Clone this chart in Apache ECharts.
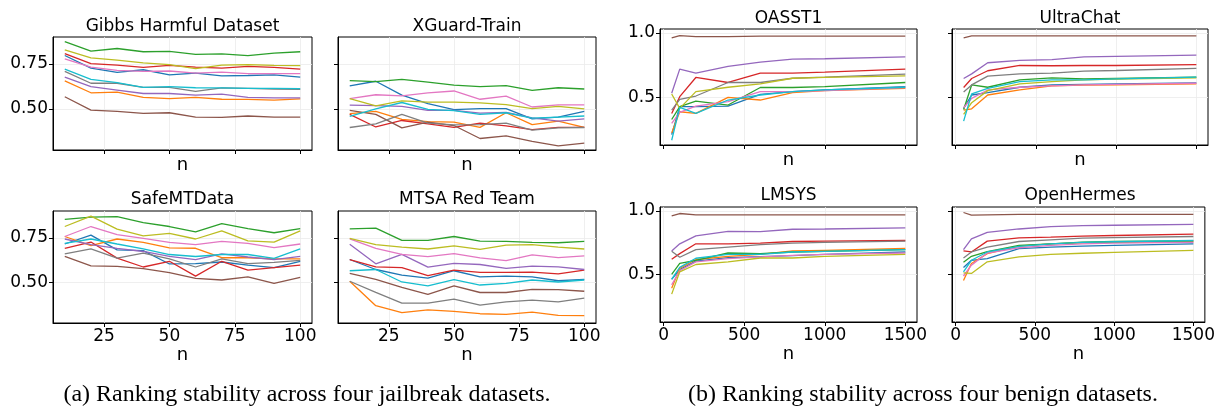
<!DOCTYPE html>
<html>
<head>
<meta charset="utf-8">
<script src="https://cdn.jsdelivr.net/npm/echarts@6/dist/echarts.min.js"></script>
<style>html,body{margin:0;padding:0;background:#fff;}#c{width:1218px;height:410px;}</style>
</head>
<body>
<div id="c"></div>
<script>
// ---------------- data ----------------
const seriesNames = ['m1','m2','m3','m4','m5','m6','m7','m8','m9','m10'];
const colors = ['#1f77b4','#ff7f0e','#2ca02c','#d62728','#9467bd','#8c564b','#e377c2','#7f7f7f','#bcbd22','#17becf'];
const xJail = [10,20,30,40,50,60,70,80,90,100];
const xBenign = [50,100,200,400,600,800,1000,1500];
const jailTicksX = [25,50,75,100];
const jailTicksY = [0.5,0.75];
const benignTicksX = [0,500,1000,1500];
const benignTicksY = [0.5,1.0];
const titles = ['Gibbs Harmful Dataset','XGuard-Train','SafeMTData','MTSA Red Team','OASST1','UltraChat','LMSYS','OpenHermes'];
const captionA = '(a) Ranking stability across four jailbreak datasets.';
const captionB = '(b) Ranking stability across four benign datasets.';

const gibbs = [
 [0.797,0.727,0.703,0.718,0.690,0.699,0.684,0.686,0.690,0.677],
 [0.656,0.590,0.594,0.564,0.558,0.564,0.554,0.553,0.549,0.556],
 [0.874,0.821,0.836,0.818,0.820,0.803,0.806,0.797,0.810,0.818],
 [0.808,0.752,0.744,0.731,0.742,0.733,0.727,0.737,0.731,0.722],
 [0.677,0.624,0.605,0.586,0.586,0.577,0.583,0.564,0.562,0.562],
 [0.568,0.494,0.487,0.476,0.479,0.455,0.453,0.461,0.455,0.455],
 [0.778,0.733,0.714,0.709,0.711,0.699,0.705,0.696,0.696,0.697],
 [0.709,0.643,0.643,0.620,0.620,0.598,0.617,0.615,0.611,0.609],
 [0.829,0.784,0.771,0.756,0.746,0.724,0.744,0.746,0.742,0.741],
 [0.722,0.665,0.647,0.620,0.624,0.618,0.617,0.615,0.615,0.613]
];
const xguard = [
 [0.628,0.654,0.577,0.530,0.496,0.502,0.502,0.445,0.455,0.487],
 [0.474,0.487,0.442,0.430,0.427,0.398,0.479,0.413,0.432,0.398],
 [0.658,0.652,0.665,0.649,0.633,0.624,0.630,0.603,0.618,0.611],
 [0.470,0.400,0.436,0.417,0.398,0.421,0.406,0.385,0.398,0.398],
 [0.521,0.519,0.515,0.492,0.492,0.477,0.481,0.451,0.432,0.445],
 [0.492,0.470,0.395,0.427,0.408,0.336,0.350,0.320,0.295,0.310],
 [0.558,0.579,0.573,0.590,0.600,0.554,0.571,0.511,0.523,0.523],
 [0.397,0.417,0.470,0.421,0.412,0.413,0.421,0.383,0.395,0.397],
 [0.558,0.517,0.545,0.538,0.538,0.534,0.524,0.502,0.515,0.500],
 [0.459,0.500,0.536,0.498,0.491,0.470,0.479,0.449,0.455,0.461]
];
const safemt = [
 [0.715,0.765,0.682,0.678,0.603,0.605,0.614,0.596,0.583,0.618],
 [0.757,0.706,0.743,0.724,0.693,0.691,0.638,0.638,0.631,0.631],
 [0.853,0.866,0.868,0.835,0.813,0.783,0.829,0.801,0.778,0.801],
 [0.691,0.726,0.636,0.586,0.618,0.535,0.618,0.568,0.583,0.596],
 [0.743,0.711,0.691,0.673,0.645,0.627,0.660,0.642,0.627,0.645],
 [0.645,0.592,0.590,0.577,0.555,0.522,0.513,0.531,0.494,0.528],
 [0.757,0.813,0.767,0.746,0.724,0.711,0.730,0.719,0.695,0.715],
 [0.660,0.688,0.636,0.664,0.632,0.586,0.632,0.605,0.612,0.623],
 [0.813,0.871,0.798,0.761,0.774,0.743,0.789,0.733,0.726,0.789],
 [0.719,0.743,0.715,0.688,0.656,0.645,0.656,0.656,0.634,0.688]
];
const mtsa = [
 [0.628,0.572,0.541,0.524,0.565,0.531,0.535,0.531,0.509,0.517],
 [0.506,0.369,0.330,0.346,0.337,0.324,0.320,0.333,0.315,0.313],
 [0.800,0.804,0.735,0.735,0.757,0.731,0.730,0.724,0.722,0.730],
 [0.628,0.587,0.583,0.537,0.569,0.556,0.556,0.557,0.548,0.569],
 [0.713,0.604,0.657,0.585,0.606,0.600,0.578,0.591,0.587,0.572],
 [0.550,0.517,0.472,0.433,0.480,0.443,0.443,0.461,0.459,0.450],
 [0.744,0.691,0.657,0.644,0.661,0.637,0.622,0.654,0.639,0.648],
 [0.506,0.444,0.383,0.383,0.406,0.372,0.391,0.400,0.391,0.411],
 [0.746,0.711,0.698,0.687,0.704,0.685,0.709,0.711,0.698,0.687],
 [0.565,0.572,0.502,0.480,0.515,0.485,0.494,0.513,0.502,0.513]
];
const oasst1 = [
 [0.211,0.427,0.427,0.432,0.523,0.544,0.557,0.583],
 [0.224,0.388,0.375,0.500,0.479,0.536,0.552,0.570],
 [0.328,0.427,0.471,0.440,0.576,0.576,0.583,0.615],
 [0.375,0.505,0.654,0.615,0.688,0.688,0.695,0.719],
 [0.531,0.719,0.688,0.740,0.773,0.797,0.799,0.813],
 [0.961,0.979,0.971,0.971,0.974,0.974,0.974,0.974],
 [0.297,0.383,0.432,0.466,0.544,0.544,0.552,0.576],
 [0.401,0.484,0.510,0.615,0.615,0.648,0.656,0.680],
 [0.526,0.414,0.544,0.578,0.604,0.648,0.654,0.667],
 [0.167,0.422,0.375,0.479,0.518,0.544,0.557,0.578]
];
const ultrachat = [
 [0.414,0.518,0.536,0.578,0.596,0.601,0.604,0.612],
 [0.401,0.411,0.518,0.557,0.589,0.594,0.596,0.604],
 [0.406,0.596,0.578,0.635,0.651,0.643,0.646,0.656],
 [0.576,0.646,0.706,0.747,0.745,0.747,0.747,0.753],
 [0.646,0.682,0.768,0.786,0.792,0.813,0.818,0.828],
 [0.961,0.977,0.977,0.977,0.977,0.977,0.977,0.977],
 [0.419,0.492,0.557,0.578,0.589,0.596,0.601,0.609],
 [0.542,0.596,0.664,0.682,0.688,0.703,0.708,0.724],
 [0.367,0.458,0.552,0.604,0.622,0.635,0.641,0.651],
 [0.315,0.526,0.570,0.622,0.635,0.635,0.643,0.656]
];
const lmsys = [
 [0.464,0.541,0.606,0.634,0.642,0.649,0.660,0.678],
 [0.394,0.549,0.619,0.644,0.660,0.686,0.691,0.706],
 [0.503,0.588,0.613,0.670,0.665,0.678,0.683,0.696],
 [0.621,0.665,0.742,0.742,0.747,0.760,0.763,0.768],
 [0.686,0.742,0.804,0.840,0.838,0.856,0.858,0.866],
 [0.961,0.979,0.969,0.969,0.969,0.969,0.969,0.969],
 [0.420,0.531,0.601,0.626,0.639,0.652,0.660,0.670],
 [0.683,0.637,0.696,0.716,0.735,0.747,0.753,0.763],
 [0.348,0.523,0.580,0.601,0.631,0.631,0.644,0.660],
 [0.466,0.557,0.629,0.660,0.660,0.678,0.683,0.696]
];
const openhermes = [
 [0.557,0.613,0.626,0.704,0.716,0.724,0.729,0.742],
 [0.454,0.588,0.665,0.724,0.742,0.750,0.753,0.758],
 [0.598,0.644,0.680,0.729,0.742,0.755,0.760,0.765],
 [0.686,0.678,0.763,0.789,0.794,0.802,0.807,0.817],
 [0.696,0.781,0.832,0.858,0.876,0.884,0.887,0.894],
 [0.987,0.966,0.969,0.972,0.972,0.972,0.972,0.972],
 [0.490,0.575,0.670,0.711,0.729,0.742,0.747,0.753],
 [0.631,0.678,0.716,0.760,0.773,0.786,0.791,0.799],
 [0.515,0.510,0.601,0.639,0.660,0.668,0.675,0.691],
 [0.523,0.613,0.678,0.722,0.742,0.753,0.758,0.768]
];

// ---------------- layout ----------------
const FONT = 'DejaVu Sans';
const panels = [
  {data: gibbs,      xs: xJail,   g:{left:53, top:37,  width:259, height:113}, group:'a', showX:false, showY:true},
  {data: xguard,     xs: xJail,   g:{left:338,top:37,  width:258, height:113}, group:'a', showX:false, showY:false},
  {data: safemt,     xs: xJail,   g:{left:53, top:211, width:259, height:112}, group:'a', showX:true,  showY:true},
  {data: mtsa,       xs: xJail,   g:{left:338,top:211, width:258, height:112}, group:'a', showX:true,  showY:false},
  {data: oasst1,     xs: xBenign, g:{left:660,top:29,  width:257, height:116}, group:'b', showX:false, showY:true},
  {data: ultrachat,  xs: xBenign, g:{left:952,top:29,  width:256, height:116}, group:'b', showX:false, showY:false},
  {data: lmsys,      xs: xBenign, g:{left:660,top:207, width:257, height:115}, group:'b', showX:true,  showY:true},
  {data: openhermes, xs: xBenign, g:{left:952,top:207, width:256, height:115}, group:'b', showX:true,  showY:false}
];
const titleY = [27,27,200,200,19,19,196,196];

const grids = [], xAxes = [], yAxes = [], series = [], graphics = [];
panels.forEach((p, i) => {
  grids.push(Object.assign({show:true, borderColor:'#000', borderWidth:1, backgroundColor:'#fff'}, p.g));
  const isA = p.group === 'a';
  const xt = isA ? jailTicksX : benignTicksX;
  const yt = isA ? jailTicksY : benignTicksY;
  xAxes.push({
    type:'value', gridIndex:i,
    min: isA ? 5.5 : -22.5, max: isA ? 104.5 : 1572.5,
    name:'n', nameLocation:'middle', nameGap: p.showX ? 23 : 6,
    nameTextStyle:{fontFamily:FONT, fontSize:18, color:'#000'},
    axisLine:{show:true, onZero:false, lineStyle:{color:'#000', width:1}},
    axisTick:{show:true, length:4, customValues:xt, lineStyle:{color:'#000', width:1}},
    axisLabel:{show:p.showX, customValues:xt, fontFamily:FONT, fontSize:17, color:'#000', margin:5,
      formatter: v => String(Math.round(v))},
    splitLine:{show:true, lineStyle:{color:'#ebebeb', width:0.8}}
  });
  yAxes.push({
    type:'value', gridIndex:i,
    min: isA ? 0.272 : 0.13, max: isA ? 0.90 : 1.03,
    axisLine:{show:true, onZero:false, lineStyle:{color:'#000', width:1}},
    axisTick:{show:true, length:4, customValues:yt, lineStyle:{color:'#000', width:1}},
    axisLabel:{show:p.showY, customValues:yt, fontFamily:FONT, fontSize:17, color:'#000', margin:5,
      formatter: v => isA ? v.toFixed(2) : v.toFixed(1)},
    splitLine:{show:true, lineStyle:{color:'#ebebeb', width:0.8}}
  });
  p.data.forEach((ys, k) => {
    series.push({
      type:'line', name:seriesNames[k], xAxisIndex:i, yAxisIndex:i,
      data: p.xs.map((x, j) => [x, ys[j]]),
      showSymbol:false, symbol:'none', silent:true, animation:false,
      lineStyle:{color:colors[k], width:1.3}, z: 2 + k*0.01
    });
  });
  graphics.push({
    type:'text', x: p.g.left + p.g.width/2, y: titleY[i],
    style:{text: titles[i], fontFamily:FONT, fontSize:17, fill:'#000', align:'center', verticalAlign:'middle'}
  });
});
graphics.push({type:'text', x:307, y:395, style:{text:captionA, fontFamily:'Liberation Serif', fontSize:24, fill:'#000', align:'center', verticalAlign:'middle'}});
graphics.push({type:'text', x:923, y:395, style:{text:captionB, fontFamily:'Liberation Serif', fontSize:24, fill:'#000', align:'center', verticalAlign:'middle'}});

const chart = echarts.init(document.getElementById('c'), null, {renderer:'canvas'});
chart.setOption({
  animation:false, backgroundColor:'#fff',
  grid:grids, xAxis:xAxes, yAxis:yAxes, series:series, graphic:graphics
});
</script>
</body>
</html>
